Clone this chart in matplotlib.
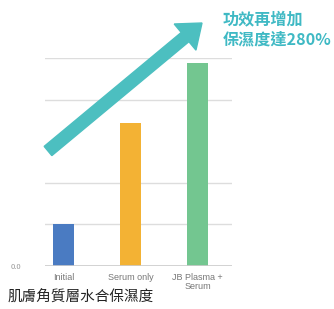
import matplotlib
matplotlib.use("Agg")
import matplotlib.pyplot as plt
from matplotlib.patches import FancyArrow
from matplotlib.transforms import IdentityTransform

plt.rcParams['font.family'] = ['Noto Sans CJK TC', 'DejaVu Sans']

categories = ["Initial", "Serum only", "JB Plasma +\nSerum"]
values = [1.0, 3.45, 4.87]
colors = ["#4a7bc2", "#f3b234", "#73c690"]
ytick_vals = [0, 1, 2, 3, 4, 5]
ytick_labels = ["0.0", "", "", "", "", ""]
headline = "功效再增加\n保濕度達280%"
title = "肌膚角質層水合保濕度"

DPI = 100
fig = plt.figure(figsize=(3.34, 3.09), dpi=DPI)
ax = fig.add_axes([0.1347, 0.139, 0.56, 0.673])

x = list(range(len(categories)))
ax.bar(x, values, width=0.31, color=colors, zorder=3)
ax.set_xlim(-0.276, 2.515)
ax.set_ylim(0, 5)
ax.set_yticks(ytick_vals)
ax.set_yticklabels(ytick_labels, fontsize=5.5, color="#999999")
ax.set_xticks(x)
ax.set_xticklabels(categories, fontsize=6.5, color="#777777",
                   family=['Liberation Sans', 'DejaVu Sans'], linespacing=1.0)
ax.tick_params(length=0, pad=5)
ax.tick_params(axis='y', pad=17)
ax.yaxis.grid(True, color="#dddddd", linewidth=1.0, zorder=0)
ax.get_ygridlines()[3].set_visible(False)
ax.axhline(0, color="#cccccc", linewidth=1.2, zorder=4)
for s in ax.spines.values():
    s.set_visible(False)

# teal arrow (pixel coordinates from bottom-left)
H = 309
tail = (48, H - 151)
tip = (202, H - 23)
arr = FancyArrow(tail[0], tail[1], tip[0] - tail[0], tip[1] - tail[1],
                 width=12, head_width=34, head_length=22,
                 length_includes_head=True, transform=IdentityTransform(),
                 color="#4cbfc0", zorder=10)
fig.add_artist(arr)

fig.text(223 / 334, 1 - 11 / H, headline, ha="left", va="top",
         fontsize=11.6, fontweight="bold", color="#3fb9c4", linespacing=1.3)
fig.text(8 / 334, 1 - 305 / H, title, ha="left", va="bottom",
         fontsize=10.5, fontweight="medium", color="#222222")

fig.savefig("out.png", dpi=DPI)
